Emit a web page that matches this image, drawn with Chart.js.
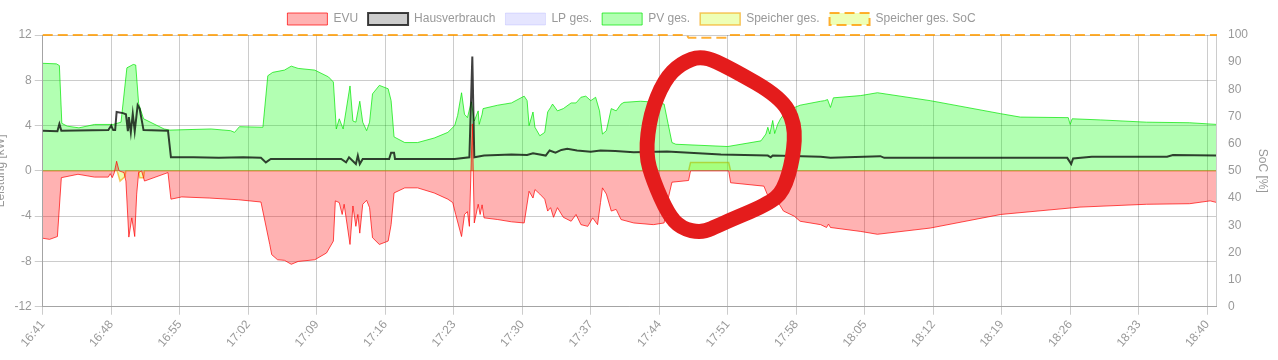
<!DOCTYPE html>
<html>
<head>
<meta charset="utf-8">
<script src="https://cdn.jsdelivr.net/npm/chart.js@4.4.1/dist/chart.umd.min.js"></script>
<style>
html, body { margin: 0; padding: 0; background: #fff; overflow: hidden; }
#wrap { position: absolute; left: -13px; top: 0; width: 1291px; height: 360px; }
</style>
</head>
<body>
<div id="wrap"><canvas id="chart"></canvas></div>
<script>
// x = Minuten nach 16:41, y = kW
const xTickLabels = ['16:41', '16:48', '16:55', '17:02', '17:09', '17:16', '17:23', '17:30', '17:37',
    '17:44', '17:51', '17:58', '18:05', '18:12', '18:19', '18:26', '18:33', '18:40'];

const evu = [[0, -5.95], [0.7, -6.05], [1.5, -5.8], [1.9, -0.6], [3.6, -0.3], [5.3, -0.55], [6.7, -0.55],
    [6.9, -0.25], [7.1, -0.6], [7.3, -0.2], [7.55, 0.85], [7.8, 0], [8.3, -0.15], [8.5, -0.9], [8.8, -5.85],
    [9.1, -4.15], [9.4, -5.8], [9.6, -2.05], [9.8, -0.15], [10.1, 0], [10.4, -0.9], [12.8, -0.15], [13.1, -2.5],
    [14.2, -2.3], [17.0, -2.4], [20.0, -2.55], [22.3, -2.75], [23.2, -6.5], [23.4, -7.4], [24.0, -7.85],
    [24.7, -7.9], [25.4, -8.25], [26.1, -8.0], [27.8, -7.85], [29.0, -7.25], [29.7, -6.2], [29.9, -2.65],
    [30.3, -2.8], [30.6, -3.85], [30.8, -2.95], [31.4, -6.5], [31.7, -3.1], [32.0, -4.9], [32.2, -3.85],
    [32.4, -5.5], [32.7, -2.95], [33.1, -2.6], [33.4, -3.25], [33.7, -5.9], [34.4, -6.5], [35.3, -6.2],
    [35.6, -4.75], [35.9, -1.95], [37.0, -1.5], [38.3, -1.5], [40.0, -1.95], [41.4, -2.5], [41.9, -2.8],
    [42.2, -3.85], [42.8, -5.8], [43.1, -3.85], [43.4, -3.6], [43.6, -4.9], [43.9, 4.15], [44.1, -4.6],
    [44.5, -2.95], [44.7, -3.85], [44.9, -3.0], [45.1, -4.15], [46.5, -4.3], [47.9, -4.5], [49.2, -4.6],
    [49.7, -1.8], [50.1, -2.4], [50.3, -1.65], [50.8, -2.05], [51.3, -2.5], [51.6, -3.55], [51.9, -3.25],
    [52.2, -4.1], [52.6, -3.25], [53.2, -4.1], [54.0, -4.45], [54.5, -3.85], [55.0, -4.75], [55.7, -4.9],
    [56.2, -4.15], [56.7, -4.75], [57.0, -2.8], [57.2, -1.5], [57.6, -2.05], [58.1, -3.55], [58.6, -3.4],
    [59.1, -4.3], [60.4, -4.6], [62.4, -4.75], [63.5, -4.6], [63.9, -2.5], [64.3, -1.0], [66.0, -0.85],
    [66.2, 0], [70.1, 0], [70.3, -1.05], [73.7, -1.35], [74.1, -2.2], [74.6, -2.0], [75.7, -3.55],
    [76.8, -4.0], [77.4, -4.45], [79.5, -4.75], [80.1, -5.0], [80.3, -4.7], [80.5, -5.0], [83.6, -5.35],
    [85.3, -5.6], [90.7, -5.05], [97.9, -3.85], [106.0, -3.2], [112.8, -2.95], [117.2, -2.9], [119.3, -2.65],
    [120, -2.8]];

const haus = [[0, 3.55], [1.5, 3.5], [1.7, 4.15], [1.9, 3.55], [6.7, 3.6], [7.0, 4.0], [7.2, 3.6], [7.4, 3.6],
    [7.55, 5.2], [8.2, 5.1], [8.5, 5.0], [8.7, 3.5], [8.8, 4.75], [9.0, 3.4], [9.2, 5.05], [9.4, 3.5],
    [9.7, 5.8], [9.9, 5.5], [10.3, 3.6], [12.8, 3.55], [13.1, 1.2], [15.4, 1.2], [18.0, 1.15], [20.5, 1.2],
    [22.3, 1.15], [22.8, 0.75], [23.3, 1.05], [30.5, 1.05], [31.0, 0.75], [31.3, 1.2], [32.0, 0.6],
    [32.2, 1.35], [32.4, 0.6], [32.7, 1.05], [35.4, 1.05], [35.6, 1.6], [35.9, 1.6], [36.0, 1.05],
    [42.1, 1.05], [43.6, 1.2], [43.9, 10.1], [44.1, 1.2], [45.1, 1.35], [47.9, 1.45], [49.5, 1.4],
    [50.1, 1.55], [51.4, 1.35], [51.8, 1.8], [52.4, 1.6], [53.0, 1.85], [53.6, 1.95], [54.6, 1.8],
    [56.0, 1.7], [57.0, 1.8], [58.5, 1.75], [60.4, 1.65], [63.8, 1.7], [69.3, 1.45], [74.1, 1.35],
    [74.4, 1.2], [74.6, 1.35], [79.5, 1.25], [80.5, 1.15], [85.6, 1.3], [86.0, 1.15], [104.7, 1.15],
    [105.1, 0.6], [105.3, 1.1], [107.2, 1.25], [114.9, 1.25], [115.5, 1.4], [120, 1.35]];

const lp = [[0, 0], [120, 0]];

const pv = [[0, 9.5], [1.4, 9.45], [1.7, 9.3], [1.95, 4.2], [2.5, 3.95], [3.7, 3.8], [5.3, 4.1], [7.2, 4.1],
    [8.0, 4.3], [8.6, 9.1], [9.25, 9.4], [9.5, 9.35], [9.8, 5.95], [10.3, 4.6], [12.4, 3.7], [13.0, 3.6],
    [17.2, 3.7], [19.2, 3.55], [19.6, 3.4], [20.1, 3.9], [22.5, 3.85], [23.0, 8.4], [23.5, 8.7], [24.7, 8.9],
    [25.4, 9.25], [26.1, 9.05], [27.8, 8.9], [29.2, 8.3], [29.7, 7.85], [30.0, 3.7], [30.3, 4.6], [30.7, 3.7],
    [31.4, 7.5], [31.7, 4.4], [32.0, 4.3], [32.4, 6.15], [32.7, 4.3], [33.1, 3.55], [33.4, 4.3], [33.7, 6.8],
    [34.4, 7.55], [35.3, 7.25], [35.6, 6.2], [35.9, 3.0], [37.0, 2.5], [38.3, 2.5], [40.0, 2.9], [41.4, 3.4],
    [42.1, 4.0], [42.4, 4.9], [42.8, 6.9], [43.1, 5.0], [43.4, 4.7], [43.8, 6.1], [44.1, 4.4], [44.5, 5.3],
    [44.6, 4.1], [44.9, 5.0], [45.0, 5.5], [46.5, 5.8], [47.9, 6.0], [49.2, 6.6], [49.5, 6.2], [49.7, 4.0],
    [50.1, 5.2], [50.3, 3.85], [50.8, 3.1], [51.3, 3.4], [51.6, 5.2], [51.9, 5.6], [52.1, 5.9], [52.6, 5.3],
    [53.2, 5.5], [54.0, 6.0], [54.5, 6.0], [55.0, 6.5], [55.5, 6.6], [56.0, 6.2], [56.5, 6.5], [56.9, 5.3],
    [57.2, 3.25], [57.6, 3.55], [58.1, 5.5], [58.6, 5.3], [59.1, 5.9], [59.4, 6.05], [61.1, 6.15],
    [62.8, 6.05], [63.5, 5.9], [63.9, 4.2], [64.3, 2.5], [64.7, 2.35], [70.0, 2.15], [73.4, 2.65],
    [73.9, 3.25], [74.1, 3.85], [74.3, 3.25], [74.6, 4.45], [74.8, 3.3], [75.1, 4.1], [75.4, 4.6],
    [76.0, 5.3], [77.4, 5.8], [79.5, 6.15], [79.9, 6.2], [80.2, 6.3], [80.5, 5.6], [80.8, 6.45],
    [83.6, 6.65], [85.3, 6.9], [90.7, 6.2], [97.9, 5.05], [99.9, 4.75], [104.8, 4.7], [105.0, 4.1],
    [105.2, 4.6], [108.1, 4.5], [112.8, 4.3], [117.2, 4.25], [120, 4.1]];

const speicher = [[0, 0], [7.6, 0], [7.9, -0.9], [8.4, -0.5], [8.5, 0], [9.8, 0], [9.9, -0.6], [10.3, -0.6],
    [10.4, 0], [66.0, 0], [66.2, 0.75], [70.1, 0.75], [70.3, 0], [120, 0]];

const soc = [[0, 100], [65.8, 100], [66.0, 99], [70.0, 99], [70.2, 100], [120, 100]];

// roter Kringel (Markierung im Bild), in Minuten / kW
const kringel = [[67.4, 10.2], [70.3, 9.05], [75.4, 6.5], [76.9, 4.2], [76.7, 1.15], [75.7, -1.8],
    [74.1, -2.95], [69.3, -4.7], [67.4, -5.5], [65.2, -5.05], [63.9, -3.8], [62.4, -0.9], [61.6, 1.5],
    [62.1, 5.05], [63.5, 8.0], [65.2, 9.5]];

Chart.defaults.font.family = 'Arial, "Liberation Sans", Helvetica, sans-serif';
Chart.defaults.font.size = 12;
Chart.defaults.color = '#999';

const kringelPlugin = {
    id: 'kringel',
    afterDraw(chart) {
        const ctx = chart.ctx;
        const xs = chart.scales.x, ys = chart.scales.y;
        const p = kringel.map(k => [xs.getPixelForValue(k[0]), ys.getPixelForValue(k[1])]);
        const n = p.length;
        ctx.save();
        ctx.strokeStyle = '#e41c1c';
        ctx.lineWidth = 15;
        ctx.lineJoin = 'round';
        ctx.lineCap = 'round';
        ctx.beginPath();
        const mid = (a, b) => [(a[0] + b[0]) / 2, (a[1] + b[1]) / 2];
        let m0 = mid(p[n - 1], p[0]);
        ctx.moveTo(m0[0], m0[1]);
        for (let i = 0; i < n; i++) {
            const m = mid(p[i], p[(i + 1) % n]);
            ctx.quadraticCurveTo(p[i][0], p[i][1], m[0], m[1]);
        }
        ctx.closePath();
        ctx.stroke();
        ctx.restore();
    }
};

const gridColor = 'rgba(0,0,0,0.2)';

new Chart(document.getElementById('chart'), {
    type: 'line',
    data: {
        datasets: [{
            label: 'EVU',
            data: evu,
            borderColor: 'rgba(255,0,0,0.7)',
            backgroundColor: 'rgba(255,0,0,0.3)',
            borderWidth: 1,
            fill: 'origin',
            yAxisID: 'y'
        }, {
            label: 'Hausverbrauch',
            data: haus,
            borderColor: 'rgba(0,0,0,0.75)',
            backgroundColor: 'rgba(0,0,0,0.2)',
            borderWidth: 2,
            fill: false,
            yAxisID: 'y'
        }, {
            label: 'LP ges.',
            data: lp,
            borderColor: 'rgba(0,0,255,0.1)',
            backgroundColor: 'rgba(0,0,255,0.1)',
            borderWidth: 1,
            fill: 'origin',
            yAxisID: 'y'
        }, {
            label: 'PV ges.',
            data: pv,
            borderColor: 'rgba(0,230,0,0.7)',
            backgroundColor: 'rgba(0,255,0,0.3)',
            borderWidth: 1,
            fill: 'origin',
            yAxisID: 'y'
        }, {
            label: 'Speicher ges.',
            data: speicher,
            borderColor: 'rgba(245,160,0,0.6)',
            backgroundColor: 'rgba(200,255,13,0.3)',
            borderWidth: 1.5,
            fill: 'origin',
            yAxisID: 'y'
        }, {
            label: 'Speicher ges. SoC',
            data: soc,
            borderColor: 'rgba(255,155,0,0.8)',
            backgroundColor: 'rgba(200,255,13,0.3)',
            borderWidth: 2,
            borderDash: [10, 5],
            fill: false,
            clip: 6,
            yAxisID: 'y1'
        }]
    },
    options: {
        responsive: true,
        maintainAspectRatio: false,
        animation: false,
        layout: {
            padding: { left: 2, right: 4, top: 3, bottom: 7 }
        },
        elements: {
            point: { radius: 0 },
            line: { tension: 0 }
        },
        plugins: {
            legend: {
                position: 'top',
                labels: { boxWidth: 40, boxHeight: 12, padding: 10, color: '#999' }
            },
            tooltip: { enabled: false }
        },
        scales: {
            x: {
                type: 'linear',
                min: 0,
                max: 119.9,
                afterBuildTicks: s => { s.ticks = xTickLabels.map((_, i) => ({ value: i * 7 })); },
                ticks: {
                    autoSkip: false,
                    minRotation: 50,
                    maxRotation: 50,
                    callback: v => xTickLabels[Math.round(v / 7)]
                },
                grid: { color: gridColor },
                border: { color: gridColor }
            },
            y: {
                position: 'left',
                min: -12,
                max: 12,
                ticks: { stepSize: 4 },
                title: { display: true, text: 'Leistung [kW]', color: '#999' },
                grid: { color: gridColor },
                border: { color: gridColor }
            },
            y1: {
                position: 'right',
                min: 0,
                max: 100,
                afterFit: s => { s.width = 58; },
                ticks: { stepSize: 10, padding: 12 },
                title: { display: true, text: 'SoC [%]', color: '#999' },
                grid: { drawOnChartArea: false, drawTicks: false, color: gridColor },
                border: { color: gridColor }
            }
        }
    },
    plugins: [kringelPlugin]
});
</script>
</body>
</html>
